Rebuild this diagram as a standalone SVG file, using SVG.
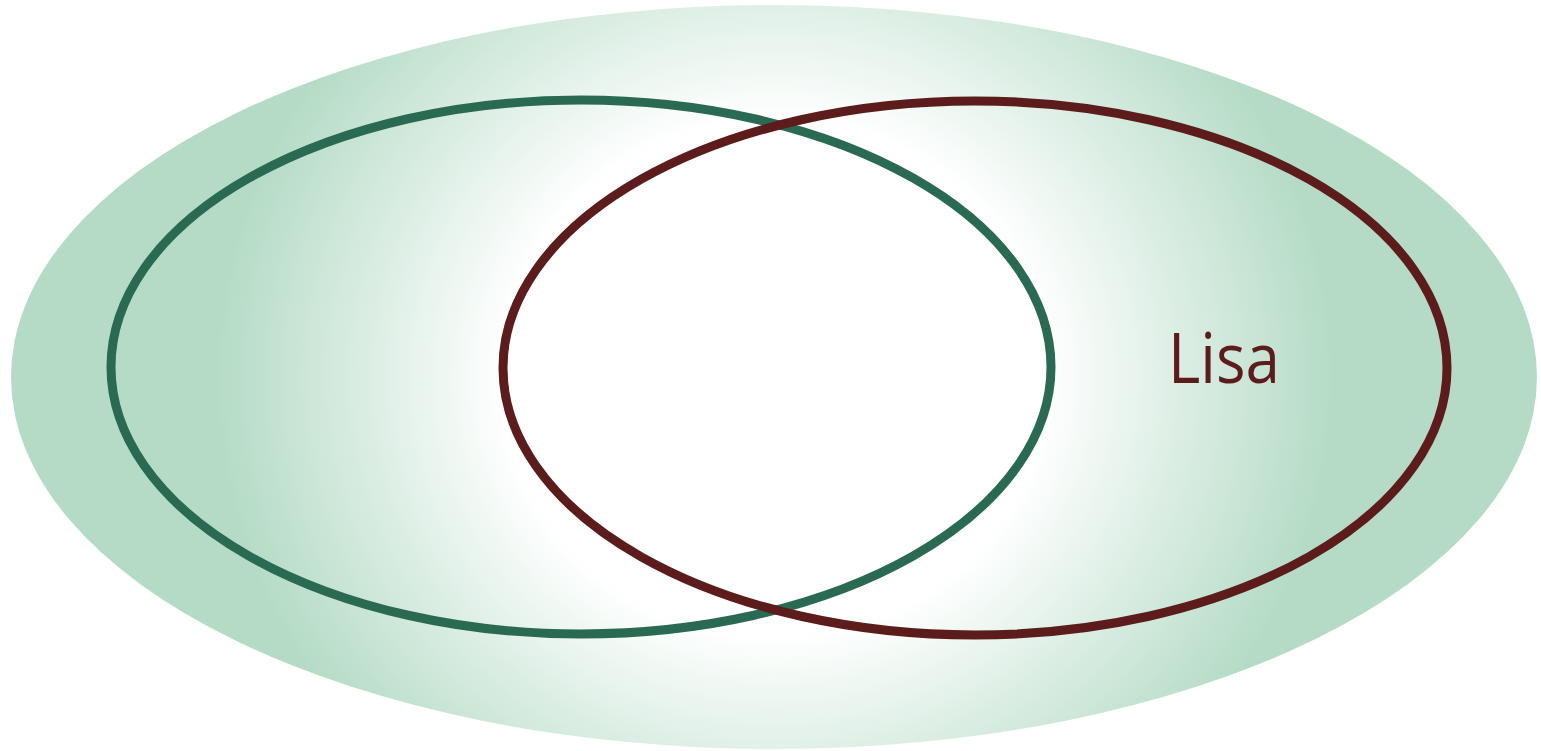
<svg xmlns="http://www.w3.org/2000/svg" width="1541" height="751" viewBox="0 0 1541 751">
<defs>
<radialGradient id="bg" gradientUnits="userSpaceOnUse" cx="0" cy="0" r="1" gradientTransform="translate(775 378) scale(600 570)">
<stop offset="0" stop-color="#ffffff"/>
<stop offset="0.45" stop-color="#ffffff"/>
<stop offset="0.93" stop-color="#b5dbc6"/>
<stop offset="1" stop-color="#b5dbc6"/>
</radialGradient>
<style>
.set{fill:none;stroke-width:9}
.green{stroke:#2a6a52}
.brown{stroke:#5c1c1c}
.lbl{font-family:"Open Sans","Liberation Sans",Arial,sans-serif;font-size:70px;fill:#5c1c1c}
</style>
</defs>
<rect width="1541" height="751" fill="#ffffff"/>
<g id="universe">
<ellipse cx="774" cy="377" rx="763" ry="372" fill="url(#bg)"/>
</g>
<g id="set-green">
<ellipse class="set green" cx="581" cy="367" rx="470" ry="267"/>
</g>
<g id="set-lisa">
<ellipse class="set brown" cx="975" cy="368" rx="472" ry="267"/>
<text class="lbl" x="1168" y="383" textLength="112" lengthAdjust="spacingAndGlyphs">Lisa</text>
</g>
</svg>
